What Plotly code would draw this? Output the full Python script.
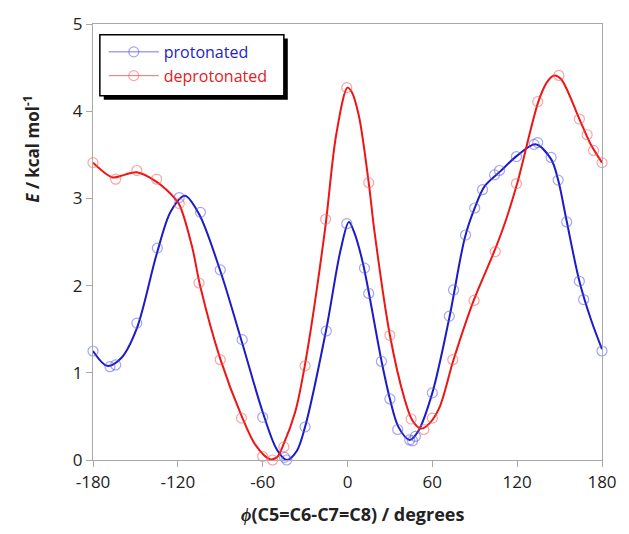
import plotly.graph_objects as go

# ---- data ----
prot_x = [-180, -168, -164, -149, -134.5, -119, -104, -90, -74.5, -60, -44.5, -43, -30, -15,
          -0.5, 12, 15, 24, 30, 35.5, 44, 46, 48, 60, 72, 75, 83.5, 90, 95.5, 104, 107.5,
          119.5, 132, 134.5, 144, 149, 155, 164, 167, 180]
prot_y = [1.25, 1.07, 1.09, 1.57, 2.43, 3.01, 2.84, 2.18, 1.38, 0.49, 0.03, 0.0, 0.38, 1.48,
          2.71, 2.20, 1.91, 1.13, 0.70, 0.35, 0.23, 0.22, 0.27, 0.77, 1.65, 1.95, 2.58, 2.89, 3.10, 3.27, 3.32,
          3.48, 3.62, 3.64, 3.47, 3.21, 2.73, 2.05, 1.84, 1.25]

deprot_x = [-180, -164, -149, -135, -119, -105, -90, -75, -60, -53, -45, -30, -15.5, -0.5,
            15, 30, 45, 54, 60, 74.5, 89.5, 104.5, 119.5, 134.5, 149.5, 164, 169.5, 174, 180]
deprot_y = [3.41, 3.22, 3.32, 3.22, 2.94, 2.03, 1.15, 0.48, 0.04, 0.0, 0.15, 1.08, 2.76, 4.27,
            3.18, 1.43, 0.47, 0.35, 0.48, 1.15, 1.83, 2.39, 3.17, 4.11, 4.41, 3.91, 3.73, 3.55, 3.41]

# smooth fitted curves (knots)
prot_fit_x = [-180, -170, -160, -149, -135, -125, -115, -105, -90, -75, -60, -50, -43, -36, -30,
              -15, -5, 1, 5, 11, 24, 30, 36, 44, 50, 60, 72, 83, 90, 97, 108, 120, 133, 144,
              149, 155, 164, 172, 180]
prot_fit_y = [1.25, 1.08, 1.17, 1.51, 2.36, 2.85, 3.03, 2.82, 2.17, 1.37, 0.55, 0.12, 0.0, 0.1, 0.38,
              1.5, 2.40, 2.73, 2.60, 2.25, 1.14, 0.70, 0.38, 0.23, 0.33, 0.77, 1.63, 2.55, 2.89, 3.14,
              3.31, 3.49, 3.62, 3.45, 3.21, 2.74, 2.05, 1.62, 1.27]

deprot_fit_x = [-180, -166, -158, -149, -135, -125, -119, -110, -104, -90, -75, -65, -55, -50, -45,
                -37, -30, -16, -8, 0, 3, 8, 15, 19, 30, 40, 46, 52, 58, 65, 75, 89, 104, 112, 120,
                135, 141, 146, 151, 164, 172, 180]
deprot_fit_y = [3.41, 3.24, 3.27, 3.30, 3.19, 3.05, 2.93, 2.45, 1.98, 1.16, 0.51, 0.17, 0.01, 0.03, 0.19,
                0.55, 1.10, 2.63, 3.73, 4.27, 4.22, 3.95, 3.18, 2.63, 1.43, 0.72, 0.45, 0.36, 0.42, 0.60,
                1.15, 1.82, 2.40, 2.75, 3.17, 4.11, 4.33, 4.41, 4.37, 3.91, 3.62, 3.41]

x_ticks = [-180, -120, -60, 0, 60, 120, 180]
y_ticks = [0, 1, 2, 3, 4, 5]

BLUE = "#1b1bc8"
RED = "#ee1515"
BLUE_M = "rgba(90,90,235,0.55)"
RED_M = "rgba(245,90,90,0.55)"

W, H = 629, 534
L, R, T, B = 93, 16, 22, 74
PW, PH = W - L - R, H - T - B


def px(xp):
    return (xp - L) / PW


def py(yp):
    return (H - B - yp) / PH


fig = go.Figure()

fig.add_trace(go.Scatter(x=prot_fit_x, y=prot_fit_y, mode="lines", line=dict(color=BLUE, width=2, shape="spline", smoothing=0.9),
                         showlegend=False, hoverinfo="skip"))
fig.add_trace(go.Scatter(x=deprot_fit_x, y=deprot_fit_y, mode="lines", line=dict(color=RED, width=2, shape="spline", smoothing=0.9),
                         showlegend=False, hoverinfo="skip"))
fig.add_trace(go.Scatter(x=prot_x, y=prot_y, mode="markers", cliponaxis=False,
                         marker=dict(symbol="circle-open", size=10, color=BLUE_M, line=dict(width=1.2)),
                         showlegend=False))
fig.add_trace(go.Scatter(x=deprot_x, y=deprot_y, mode="markers", cliponaxis=False,
                         marker=dict(symbol="circle-open", size=10, color=RED_M, line=dict(width=1.2)),
                         showlegend=False))

# legend entries
fig.add_trace(go.Scatter(x=[None], y=[None], mode="lines+markers",
                         name="<span style='color:#2424c4'>protonated</span>",
                         line=dict(color="rgba(80,80,230,0.8)", width=1),
                         marker=dict(symbol="circle-open", size=10, color=BLUE_M, line=dict(width=1.2))))
fig.add_trace(go.Scatter(x=[None], y=[None], mode="lines+markers",
                         name="<span style='color:#e42020'>deprotonated</span>",
                         line=dict(color="rgba(240,70,70,0.8)", width=1),
                         marker=dict(symbol="circle-open", size=10, color=RED_M, line=dict(width=1.2))))

# legend box with shadow
fig.add_shape(type="rect", xref="paper", yref="paper", x0=px(104), x1=px(292), y0=py(98), y1=py(36.5),
              fillcolor="black", line=dict(width=0), layer="above")
fig.add_shape(type="rect", xref="paper", yref="paper", x0=px(100), x1=px(288), y0=py(94), y1=py(32.7),
              fillcolor="white", line=dict(color="black", width=1.5), layer="above")

fig.add_annotation(xref="paper", yref="paper", x=px(30), y=py(148), text="<b><i>E</i> / kcal mol<sup>-1</sup></b>",
                   textangle=-90, showarrow=False, font=dict(size=17, color="#222"), xanchor="center", yanchor="middle")
fig.add_annotation(xref="paper", yref="paper", x=px(358), y=py(514), text="<b><i>ϕ</i>(C5=C6-C7=C8) / degrees</b>",
                   showarrow=False, font=dict(size=18, color="#222"), xanchor="center", yanchor="middle")

axis_common = dict(showgrid=False, zeroline=False, showline=True, linecolor="#a8a8a8", linewidth=1.2,
                   mirror=True, ticks="outside", ticklen=6, tickcolor="#a8a8a8", tickwidth=1.2,
                   tickfont=dict(size=17, color="#222"))
fig.update_xaxes(range=[-180, 180], tickvals=x_ticks, ticktext=[str(v) for v in x_ticks], **axis_common)
fig.update_yaxes(range=[0, 5], tickvals=y_ticks, ticktext=[str(v) for v in y_ticks], **axis_common)

fig.update_layout(
    width=W, height=H,
    margin=dict(l=L, r=R, t=T, b=B, pad=0),
    paper_bgcolor="white", plot_bgcolor="white",
    font=dict(family="Open Sans", size=16, color="#222"),
    legend=dict(x=px(104), y=py(33), xanchor="left", yanchor="top", bgcolor="rgba(0,0,0,0)",
                borderwidth=0, font=dict(size=16), itemwidth=50, tracegroupgap=0),
)

fig.write_html("out.html", config={"displayModeBar": False},
               post_script="document.body.style.margin='0px';document.body.style.padding='0px';")
